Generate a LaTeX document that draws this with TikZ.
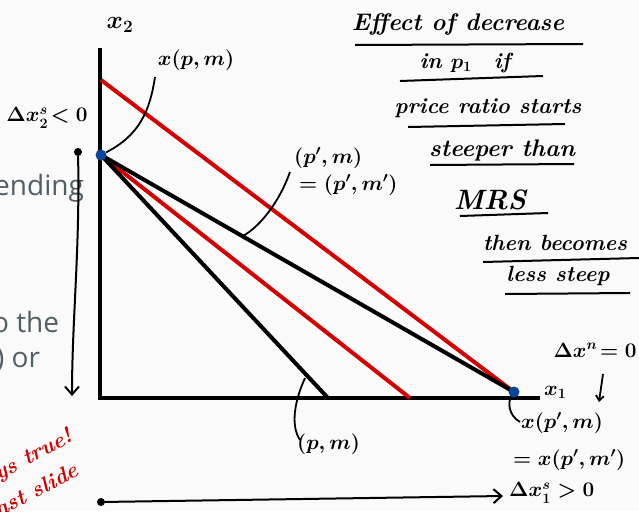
\documentclass[tikz,border=0pt]{standalone}
\usepackage{fontspec}
\newfontfamily\slidefont{Open Sans}
\usetikzlibrary{arrows.meta}
\definecolor{inkred}{RGB}{210,0,0}
\definecolor{dotblue}{RGB}{10,70,150}
\definecolor{slidegray}{RGB}{80,95,100}
\definecolor{bg}{RGB}{250,250,250}
\begin{document}
\begin{tikzpicture}[x=1pt,y=-1pt,
  axis/.style={line width=4pt,black},
  budget/.style={line width=4pt,black},
  redbudget/.style={line width=4pt,inkred},
  pointer/.style={line width=1.8pt,black},
  hand/.style={font=\fontsize{20}{22}\selectfont\boldmath,inner sep=1pt},
  note/.style={font=\fontsize{22}{24}\selectfont\bfseries\itshape\boldmath,inner sep=1pt},
  uline/.style={line width=2pt,black},
  bluedot/.style={circle,fill=dotblue,inner sep=0pt,minimum size=11pt},
  blackdot/.style={circle,fill=black,inner sep=0pt,minimum size=8pt},
  slidetxt/.style={font=\slidefont\fontsize{28}{30}\selectfont,text=slidegray,inner sep=0pt,anchor=west},
  redtxt/.style={font=\fontsize{22}{24}\selectfont\bfseries\itshape,text=inkred,rotate=28,anchor=west,inner sep=0pt},
  arr/.style={line width=2pt,-{Straight Barb[length=8pt,width=14pt,line width=2pt]}}]
\fill[bg] (0,0) rectangle (639,511);
\useasboundingbox (0,0) rectangle (639,511);
\begin{scope}
\clip (0,0) rectangle (639,511);
% faded slide text
\node[slidetxt] (s1) at (-6,188) {ending};
\node[slidetxt] (s2) at (-8,322) {o the};
\node[slidetxt] (s3) at (-4,360) {) or};
% red handwritten note
\node[redtxt] (r1) at (-4,476) {ys true!};
\node[redtxt] (r2) at (-10,514) {last slide};
\end{scope}

% axes
\coordinate (O) at (100,398);
\coordinate (Ytop) at (100,48);
\coordinate (Xend) at (540,398);
\draw[axis] (Ytop) -- (O) -- (Xend);
\node[hand,font=\fontsize{26}{28}\selectfont\boldmath] (x2) at (120,25) {$x_2$};
\node[hand,anchor=west] (x1) at (543,392) {$x_1$};

% budget lines
\coordinate (A) at (101,155);
\coordinate (B) at (514,392);
\coordinate (Rtop) at (101,80);
\coordinate (Pm) at (328,398);
\coordinate (Rmid) at (410,398);
\draw[redbudget] (Rtop) -- (B);
\draw[redbudget] (A) -- (Rmid);
\draw[budget] (A) -- (Pm);
\draw[budget] (A) -- (B);
\node[bluedot] (dA) at (A) {};
\node[bluedot] (dB) at (B) {};

% labels with pointers
\node[hand] (lxpm) at (196,60) {$x(p,m)$};
\draw[pointer] (dA) .. controls (140,135) and (150,110) .. (155,77);
\node[hand,anchor=west] (lpm1) at (293,158) {$(p',m)$};
\node[hand,anchor=west] (lpm2) at (298,185) {$=(p',m')$};
\coordinate (c1) at (243,236);
\draw[pointer] (c1) .. controls (262,225) and (280,200) .. (290,172);
\node[hand,anchor=west] (lpm3) at (296,444) {$(p,m)$};
\draw[pointer] (305,378) .. controls (295,400) and (290,425) .. (300,440);
\node[hand,anchor=west] (lx1) at (520,423) {$x(p',m)$};
\node[hand,anchor=west] (lx2) at (512,460) {$=x(p',m')$};
\draw[pointer] (dB) .. controls (508,402) and (508,415) .. (520,422);
\node[hand] (dn) at (595,350) {$\Delta x^n\!=0$};
\draw[pointer,-{Straight Barb[length=5pt,width=8pt,line width=1.8pt]}] (603,374) -- (599,402);

% change arrows
\node[hand] (d2) at (47,118) {$\Delta x_2^s\!<0$};
\node[blackdot] (t2) at (78,152) {};
\draw[arr] (t2) .. controls (80,250) and (72,320) .. (72,396);
\node[blackdot] (t1) at (101,502) {};
\node[hand,anchor=west] (d1) at (508,493) {$\Delta x_1^s>0$};
\draw[arr] (t1) -- (503,496);

% right-side notes
\node[note,font=\fontsize{24}{26}\selectfont\bfseries\itshape] (n1) at (458,25) {Effect of decrease};
\draw[uline] (355,45) -- (583,44);
\node[note] (n2) at (465,63) {in $p_1$\quad if};
\draw[uline] (400,81) -- (543,76);
\node[note] (n3) at (488,108) {price ratio starts};
\draw[uline] (408,127) -- (565,124);
\node[note,font=\fontsize{24}{26}\selectfont\bfseries\itshape] (n4) at (502,150) {steeper than};
\draw[uline] (430,165) -- (574,164);
\node[note,font=\fontsize{28}{30}\selectfont\bfseries\itshape] (n5) at (490,200) {MRS};
\draw[uline] (460,216) -- (548,213);
\node[note] (n6) at (555,243) {then becomes};
\draw[uline] (483,262) -- (639,258);
\node[note] (n7) at (558,276) {less steep};
\draw[uline] (505,294) -- (630,293);
\end{tikzpicture}
\end{document}
